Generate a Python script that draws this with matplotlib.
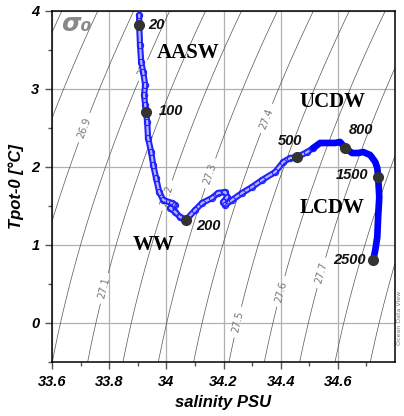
import numpy as np
import matplotlib
matplotlib.use("Agg")
import matplotlib.pyplot as plt

# profile (salinity PSU, potential temperature degC)
sal_upper = [33.905, 33.905, 33.908, 33.912, 33.919, 33.926, 33.922, 33.926, 33.929,
             33.933, 33.936, 33.947, 33.954, 33.964, 33.975, 33.989, 34.020, 34.031,
             34.013, 34.031, 34.048, 34.069, 34.101, 34.125, 34.160, 34.181, 34.206,
             34.213, 34.199, 34.206, 34.230, 34.265, 34.300, 34.335, 34.381, 34.409,
             34.433, 34.458, 34.493, 34.514]
temp_upper = [3.949, 3.821, 3.564, 3.346, 3.218, 3.051, 2.923, 2.795, 2.705,
              2.577, 2.372, 2.192, 2.026, 1.859, 1.679, 1.577, 1.538, 1.513,
              1.474, 1.423, 1.359, 1.321, 1.449, 1.538, 1.603, 1.667, 1.679,
              1.615, 1.551, 1.513, 1.577, 1.667, 1.744, 1.833, 1.936, 2.064,
              2.115, 2.128, 2.192, 2.244]

sal_deep = [34.514, 34.538, 34.566, 34.591, 34.608, 34.626, 34.650, 34.671, 34.689,
            34.713, 34.731, 34.738, 34.741, 34.745, 34.741, 34.738, 34.731, 34.724]
temp_deep = [2.244, 2.308, 2.308, 2.308, 2.321, 2.244, 2.179, 2.179, 2.192,
             2.154, 2.064, 1.987, 1.872, 1.615, 1.359, 1.103, 0.936, 0.808]

depths = ["20", "100", "200", "500", "800", "1500", "2500"]
dot_sal = [33.905, 33.929, 34.069, 34.458, 34.626, 34.741, 34.724]
dot_temp = [3.821, 2.705, 1.321, 2.128, 2.244, 1.872, 0.808]

label_levels = [26.9, 27.0, 27.1, 27.2, 27.3, 27.4, 27.5, 27.6, 27.7]
plain_levels = [26.5, 26.6, 26.7, 26.8, 27.8, 27.9, 28.0]
label_pos = [(33.709, 2.51), (33.918, 3.24), (33.778, 0.45), (33.999, 1.64),
             (34.153, 1.92), (34.345, 2.63), (34.251, 0.01), (34.405, 0.40),
             (34.545, 0.64)]


def sigma0(S, T):
    # UNESCO EOS-80 density at surface pressure, minus 1000
    rw = (999.842594 + 6.793952e-2 * T - 9.095290e-3 * T**2 + 1.001685e-4 * T**3
          - 1.120083e-6 * T**4 + 6.536332e-9 * T**5)
    A = 8.24493e-1 - 4.0899e-3 * T + 7.6438e-5 * T**2 - 8.2467e-7 * T**3 + 5.3875e-9 * T**4
    B = -5.72466e-3 + 1.0227e-4 * T - 1.6546e-6 * T**2
    C = 4.8314e-4
    return rw + A * S + B * S**1.5 + C * S**2 - 1000.0


fig = plt.figure(figsize=(4.04, 4.16), dpi=100)
ax = fig.add_axes([52 / 404, 54 / 416, 343 / 404, 351 / 416])

ss, tt = np.meshgrid(np.linspace(33.6, 34.8, 241), np.linspace(-0.5, 4.0, 241))
sig = sigma0(ss, tt)
ax.contour(ss, tt, sig, levels=plain_levels, colors="#555555", linewidths=0.5, zorder=1)
cs = ax.contour(ss, tt, sig, levels=label_levels, colors="#555555", linewidths=0.5,
                zorder=1)
ax.clabel(cs, manual=label_pos, inline=True, fontsize=7, colors="#777777",
          fmt=lambda v: f"{round(v, 1):g}")

ax.set_xlim(33.6, 34.8)
ax.set_ylim(-0.5, 4.0)
ax.set_xticks([33.6, 33.8, 34.0, 34.2, 34.4, 34.6])
ax.set_xticklabels(["33.6", "33.8", "34", "34.2", "34.4", "34.6"])
ax.set_xticks(np.arange(33.7, 34.8, 0.2), minor=True)
ax.set_yticks([0, 1, 2, 3, 4])
ax.set_yticklabels(["0", "1", "2", "3", "4"])
ax.set_yticks([-0.5, 0.5, 1.5, 2.5, 3.5], minor=True)
ax.grid(True, which="major", color="#b0b0b0", linewidth=0.9, zorder=0)
ax.set_axisbelow(True)
ax.tick_params(which="major", direction="out", length=5, width=1, color="#555555", pad=4)
ax.tick_params(which="minor", direction="out", length=3, width=1, color="#555555")
for lab in ax.get_xticklabels() + ax.get_yticklabels():
    lab.set_fontfamily("Liberation Sans")
    lab.set_fontweight("bold")
    lab.set_fontstyle("italic")
    lab.set_fontsize(10.5)
for sp in ax.spines.values():
    sp.set_linewidth(1.1)
    sp.set_color("black")

# profile: hollow-looking chain in the upper part, solid in the deep part
ax.plot(sal_upper, temp_upper, color="#2020ff", lw=4.5, solid_capstyle="round",
        solid_joinstyle="round", zorder=3)
ax.plot(sal_upper, temp_upper, color="#b4b4ff", lw=1.6, zorder=3.1)
ax.plot(sal_upper, temp_upper, "o", ms=4.5, mfc="none", mec="#2020ff", mew=0.8, zorder=3.2)
ax.plot(sal_deep, temp_deep, color="#0000ff", lw=4.8, solid_capstyle="round",
        solid_joinstyle="round", zorder=3.3)
ax.plot(dot_sal, dot_temp, "o", ms=7, color="#333333", zorder=4)

num_font = dict(family="Liberation Sans", weight="bold", style="italic", fontsize=10.5,
                color="#111111", zorder=5)
ax.text(33.936, 3.82, depths[0], ha="left", va="center", **num_font)
ax.text(33.975, 2.72, depths[1], ha="left", va="center", **num_font)
ax.text(34.106, 1.25, depths[2], ha="left", va="center", **num_font)
ax.text(34.433, 2.33, depths[3], ha="center", va="center", **num_font)
ax.text(34.682, 2.47, depths[4], ha="center", va="center", **num_font)
ax.text(34.706, 1.90, depths[5], ha="right", va="center", **num_font)
ax.text(34.699, 0.81, depths[6], ha="right", va="center", **num_font)

mass_font = dict(family="Liberation Serif", weight="bold", fontsize=15, color="black",
                 zorder=5)
ax.text(33.965, 3.46, "AASW", ha="left", va="center", **mass_font)
ax.text(34.466, 2.83, "UCDW", ha="left", va="center", **mass_font)
ax.text(34.466, 1.47, "LCDW", ha="left", va="center", **mass_font)
ax.text(33.882, 1.00, "WW", ha="left", va="center", **mass_font)

ax.text(33.633, 3.83, "σ₀", ha="left", va="center", fontsize=18, color="#888888",
        family="DejaVu Sans", weight="bold", style="italic", zorder=5)

ax.set_xlabel("salinity PSU", family="Liberation Sans", weight="bold", style="italic",
              fontsize=12, labelpad=5)
ax.set_ylabel("Tpot-0 [°C]", family="Liberation Sans", weight="bold", style="italic",
              fontsize=12, labelpad=5)

fig.text(0.988, 0.235, "Ocean Data View", rotation=90, fontsize=4.5, color="#777777",
         ha="center", va="center")

fig.savefig("out.png", dpi=100, facecolor="white")
